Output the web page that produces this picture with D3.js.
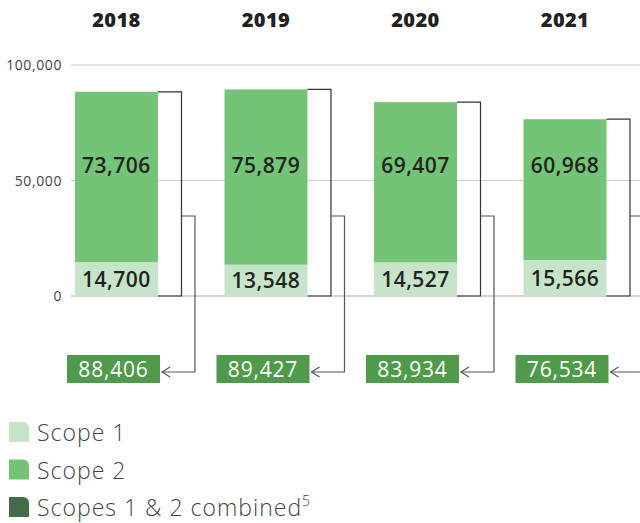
<!DOCTYPE html>
<html>
<head>
<meta charset="utf-8">
<script src="https://cdn.jsdelivr.net/npm/d3@7/dist/d3.min.js"></script>
<style>
  body { margin: 0; background: #fff; }
  text { font-family: "Open Sans", "Lato", sans-serif; }
</style>
</head>
<body>
<div id="chart"></div>
<script>
var years     = ['2018', '2019', '2020', '2021'];
var scope1    = [14700, 13548, 14527, 15566];
var scope2    = [73706, 75879, 69407, 60968];
var combined  = [88406, 89427, 83934, 76534];
var y_ticks   = [0, 50000, 100000];
var legend_labels = ['Scope 1', 'Scope 2', 'Scopes 1 & 2 combined'];

var chart_width  = 640;
var chart_height = 523;

var c_scope1 = '#c6e5c8';
var c_scope2 = '#74c477';
var c_box    = '#4f9a4b';
var c_legend3 = '#466b4a';

var svg = d3.select('#chart')
    .append('svg')
    .attr('width', chart_width)
    .attr('height', chart_height);

// scales
var x_scale = d3.scaleBand()
    .domain(years)
    .range([75, 606.5])
    .paddingInner(0.445)
    .paddingOuter(0);

var y_scale = d3.scaleLinear()
    .domain([0, 100000])
    .range([296, 65]);

var fmt = d3.format(',');

// gridlines
svg.selectAll('.grid')
    .data(y_ticks)
    .enter()
    .append('line')
    .attr('x1', 71)
    .attr('x2', chart_width)
    .attr('y1', function(d){ return y_scale(d); })
    .attr('y2', function(d){ return y_scale(d); })
    .attr('stroke', function(d){ return d === 0 ? '#aaa' : (d === 100000 ? '#e2e2e2' : '#cfcfcf'); })
    .attr('stroke-width', function(d){ return d === 100000 ? 2 : 1; });

svg.selectAll('.ytick')
    .data(y_ticks)
    .enter()
    .append('text')
    .text(function(d){ return fmt(d); })
    .attr('x', 62)
    .attr('y', function(d){ return y_scale(d) + 5; })
    .attr('text-anchor', 'end')
    .attr('font-size', 14)
    .attr('letter-spacing', 0.6)
    .attr('fill', '#444');

// year labels
svg.selectAll('.year')
    .data(years)
    .enter()
    .append('text')
    .text(function(d){ return d; })
    .attr('x', function(d){ return x_scale(d) + x_scale.bandwidth() / 2; })
    .attr('y', 27)
    .attr('text-anchor', 'middle')
    .attr('font-size', 20)
    .attr('font-weight', 800)
    .attr('letter-spacing', 0.4)
    .attr('fill', '#222');

// bars
var g = svg.selectAll('.yr')
    .data(years)
    .enter()
    .append('g');

g.append('rect')
    .attr('x', function(d){ return x_scale(d); })
    .attr('y', function(d, i){ return y_scale(scope1[i]); })
    .attr('width', x_scale.bandwidth())
    .attr('height', function(d, i){ return y_scale(0) - y_scale(scope1[i]); })
    .attr('fill', c_scope1);

g.append('rect')
    .attr('x', function(d){ return x_scale(d); })
    .attr('y', function(d, i){ return y_scale(scope1[i] + scope2[i]); })
    .attr('width', x_scale.bandwidth())
    .attr('height', function(d, i){ return y_scale(scope1[i]) - y_scale(scope1[i] + scope2[i]); })
    .attr('fill', c_scope2);

// value labels
g.append('text')
    .text(function(d, i){ return fmt(scope2[i]); })
    .attr('x', function(d){ return x_scale(d) + x_scale.bandwidth() / 2; })
    .attr('y', y_scale(56500) + 7.5)
    .attr('text-anchor', 'middle')
    .attr('font-size', 21)
    .attr('font-weight', 600)
    .attr('letter-spacing', 0.5)
    .attr('fill', '#222');

g.append('text')
    .text(function(d, i){ return fmt(scope1[i]); })
    .attr('x', function(d){ return x_scale(d) + x_scale.bandwidth() / 2; })
    .attr('y', function(d, i){ return y_scale(scope1[i] / 2) + 7.5; })
    .attr('text-anchor', 'middle')
    .attr('font-size', 21)
    .attr('font-weight', 600)
    .attr('letter-spacing', 0.5)
    .attr('fill', '#222');

// brackets and connectors
var stub_y = 216;
var arrow_y = 372;
g.append('path')
    .attr('d', function(d, i){
        var r = x_scale(d) + x_scale.bandwidth();
        var top = y_scale(scope1[i] + scope2[i]);
        return 'M' + r + ',' + top + 'H' + (r + 23.5) + 'V' + y_scale(0) + 'H' + r;
    })
    .attr('fill', 'none')
    .attr('stroke', '#333')
    .attr('stroke-width', 1.2);

g.append('path')
    .attr('d', function(d){
        var r = x_scale(d) + x_scale.bandwidth();
        return 'M' + (r + 23.5) + ',' + stub_y + 'H' + (r + 37) + 'V' + arrow_y + 'H' + (r + 4);
    })
    .attr('fill', 'none')
    .attr('stroke', '#555')
    .attr('stroke-width', 1.2);

g.append('path')
    .attr('d', function(d){
        var r = x_scale(d) + x_scale.bandwidth();
        return 'M' + (r + 12) + ',' + (arrow_y - 5) + 'L' + (r + 4) + ',' + arrow_y + 'L' + (r + 12) + ',' + (arrow_y + 5);
    })
    .attr('fill', 'none')
    .attr('stroke', '#555')
    .attr('stroke-width', 1.2);

// combined boxes
g.append('rect')
    .attr('x', function(d){ return x_scale(d) + x_scale.bandwidth() + 2 - 93; })
    .attr('y', 355)
    .attr('width', 93)
    .attr('height', 28)
    .attr('fill', c_box);

g.append('text')
    .text(function(d, i){ return fmt(combined[i]); })
    .attr('x', function(d){ return x_scale(d) + x_scale.bandwidth() + 2 - 93 / 2; })
    .attr('y', 377)
    .attr('text-anchor', 'middle')
    .attr('font-size', 21)
    .attr('font-weight', 500)
    .attr('letter-spacing', 0.8)
    .attr('fill', '#fff');

// legend
var legend_colors = [c_scope1, c_scope2, c_legend3];
var lg = svg.selectAll('.legend')
    .data(legend_labels)
    .enter()
    .append('g')
    .attr('transform', function(d, i){ return 'translate(9,' + (422 + i * 37.5) + ')'; });

lg.append('path')
    .attr('d', 'M0,0H14A6,6 0 0 1 20,6V20H0Z')
    .attr('fill', function(d, i){ return legend_colors[i]; });

var lt = lg.append('text')
    .attr('x', 28)
    .attr('y', 19)
    .attr('font-size', 23)
    .attr('font-weight', 300)
    .attr('letter-spacing', 1)
    .attr('fill', '#444')
    .text(function(d){ return d; });

lt.filter(function(d, i){ return i === 2; })
    .append('tspan')
    .attr('font-size', 14)
    .attr('dy', -10)
    .text('5');
</script>
</body>
</html>
